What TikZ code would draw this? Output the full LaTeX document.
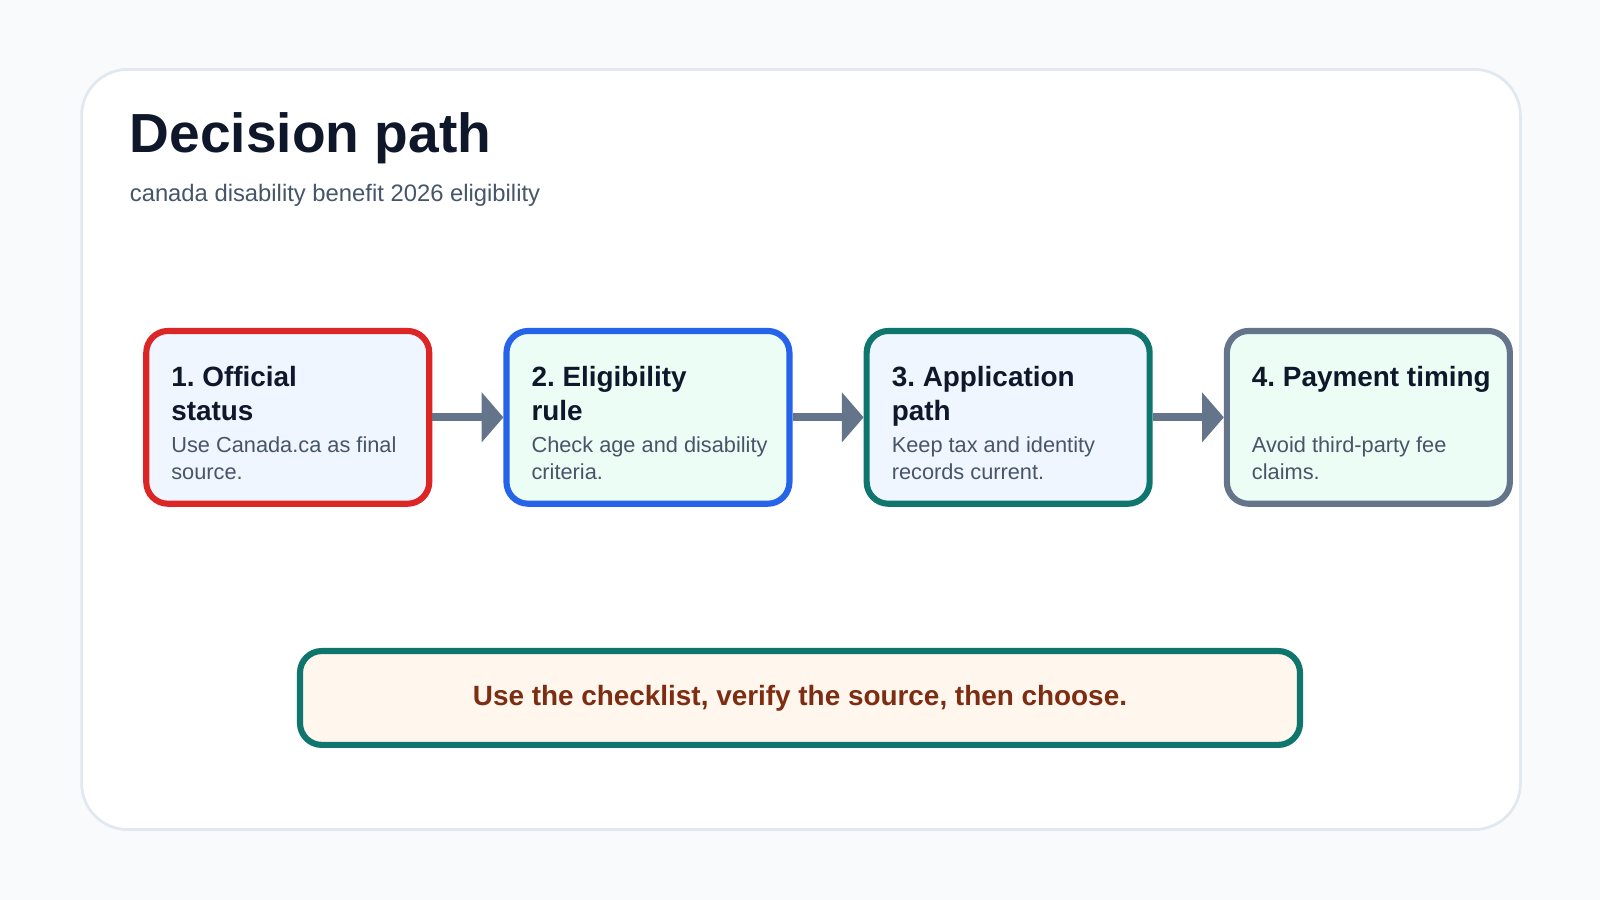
\documentclass[tikz,border=0pt]{standalone}
\usepackage{fontspec}
\setmainfont{Liberation Sans}
\frenchspacing
\usetikzlibrary{arrows.meta,positioning}
\definecolor{pagebg}{HTML}{F8FAFC}
\definecolor{cardline}{HTML}{E2E8F0}
\definecolor{ink}{HTML}{0F172A}
\definecolor{subink}{HTML}{475569}
\definecolor{redline}{HTML}{DC2626}
\definecolor{blueline}{HTML}{2563EB}
\definecolor{tealline}{HTML}{0F766E}
\definecolor{grayline}{HTML}{64748B}
\definecolor{bluefill}{HTML}{EFF6FF}
\definecolor{greenfill}{HTML}{ECFDF5}
\definecolor{notefill}{HTML}{FFF7ED}
\definecolor{noteink}{HTML}{7C2D12}
\tikzset{
	stepbox/.style={draw, line width=4.5pt, rounded corners=16pt, minimum width=208pt, minimum height=127pt, inner sep=0pt},
	steptitle/.style={anchor=north west, align=left, font=\fontsize{20.5}{25}\selectfont\bfseries, text=ink, inner sep=0pt},
	stepbody/.style={anchor=north west, align=left, font=\fontsize{16}{19.5}\selectfont, text=subink, inner sep=0pt},
	flow/.style={grayline, line width=6pt, -{Triangle[length=16pt,width=36pt]}}
}
\begin{document}
\begin{tikzpicture}[x=0.75pt, y=-0.75pt]
	\fill[pagebg] (0,0) rectangle (1568,882);
	\useasboundingbox (0,0) rectangle (1568,882);
	% card
	\draw[cardline, line width=2pt, fill=white, rounded corners=34pt] (80,68) rectangle (1490,813);
	\node[anchor=base west, inner sep=0pt, font=\fontsize{40.5}{44}\selectfont\bfseries, text=ink] (title) at (127,149) {Decision path};
	\node[anchor=base west, inner sep=0pt, font=\fontsize{17.5}{20}\selectfont, text=subink] (subtitle) at (127,197) {canada disability benefit 2026 eligibility};
	% steps
	\node[stepbox, draw=redline, fill=bluefill] (b1) at (282,409) {};
	\node[stepbox, draw=blueline, fill=greenfill] (b2) at (635,409) {};
	\node[stepbox, draw=tealline, fill=bluefill] (b3) at (988,409) {};
	\node[stepbox, draw=grayline, fill=greenfill] (b4) at (1341,409) {};
	\foreach \i/\t/\b in {1/{1. Official\\status}/{Use Canada.ca as final\\source.},
		2/{2. Eligibility\\rule}/{Check age and disability\\criteria.},
		3/{3. Application\\path}/{Keep tax and identity\\records current.},
		4/{4. Payment timing}/{Avoid third-party fee\\claims.}}{
		\node[steptitle] (t\i) at ([xshift=20.5pt, yshift=-28pt]b\i.north west) {\t};
		\node[stepbody] (d\i) at ([xshift=20.5pt, yshift=-80pt]b\i.north west) {\b};
	}
	% arrows
	\foreach \a/\b in {1/2,2/3,3/4}{\draw[flow] (b\a.east) -- (b\b.west);}
	% note
	\node[draw=tealline, line width=4.5pt, fill=notefill, rounded corners=16pt, minimum width=735pt, minimum height=69pt,
		font=\fontsize{20.5}{24}\selectfont\bfseries, text=noteink] (note) at (784,684) {Use the checklist, verify the source, then choose.};
\end{tikzpicture}
\end{document}
